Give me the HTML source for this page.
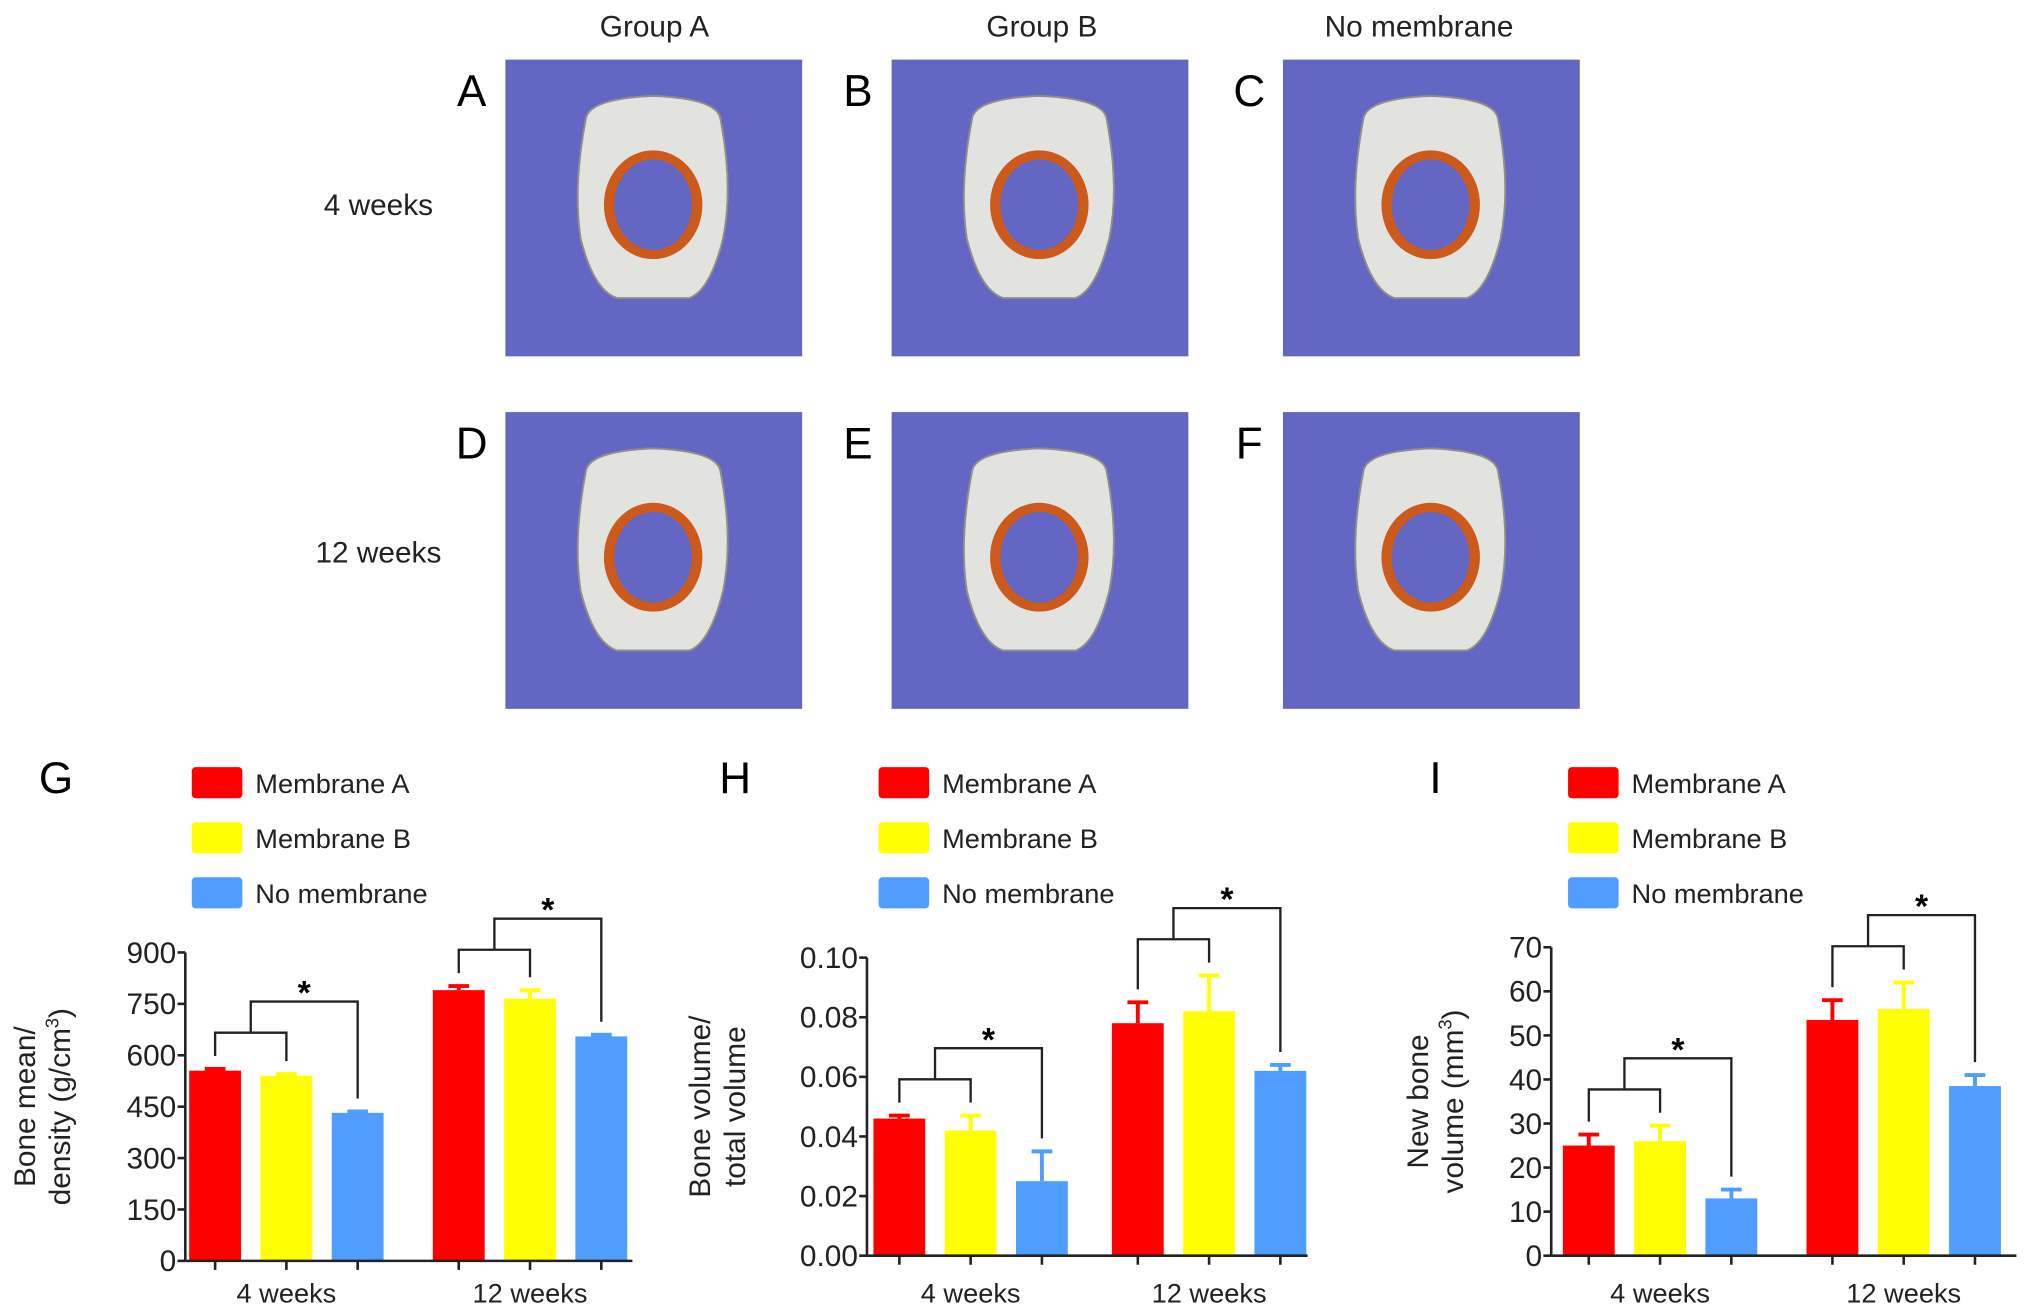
<!DOCTYPE html>
<html><head><meta charset="utf-8">
<style>
html,body{margin:0;padding:0;background:#fff;}
svg{display:block;font-family:"Liberation Sans",Arial,sans-serif;}
</style></head>
<body>
<svg id="fig" width="2032" height="1314" viewBox="0 0 1568 1014" preserveAspectRatio="none">
<g id="top">
  <text x="505" y="28" font-size="23" text-anchor="middle" fill="#222">Group A</text>
  <text x="804" y="28" font-size="23" text-anchor="middle" fill="#222">Group B</text>
  <text x="1095" y="28" font-size="23" text-anchor="middle" fill="#222">No membrane</text>
  <text x="292" y="166" font-size="23" text-anchor="middle" fill="#222">4 weeks</text>
  <text x="292" y="434" font-size="23" text-anchor="middle" fill="#222">12 weeks</text>
</g>
<g id="charts"></g>
</svg>
<script>
const NS='http://www.w3.org/2000/svg';
const svg=document.getElementById('fig');
const charts=document.getElementById('charts');
const top_=document.getElementById('top');
function mk(tag,attrs,parent){const e=document.createElementNS(NS,tag);for(const k in attrs)e.setAttribute(k,attrs[k]);(parent||svg).appendChild(e);return e;}

// ---------- image panels ----------
const panelLetters=['A','B','C','D','E','F'];
const panelX=[390,688,990];
const panelY=[46,318];
panelLetters.forEach((L,i)=>{
  const px=panelX[i%3], py=panelY[Math.floor(i/3)];
  const g=mk('g',{},top_);
  
  
  mk('rect',{x:px,y:py,width:229,height:229,fill:'#6466c4'},g);
  const cx=px+114, cy=py+108;
  mk('path',{d:`M${cx-52} ${cy-62} Q${cx-50} ${cy-78} ${cx} ${cy-80} Q${cx+50} ${cy-78} ${cx+52} ${cy-62} Q${cx+62} ${cy-10} ${cx+54} ${cy+30} Q${cx+44} ${cy+70} ${cx+28} ${cy+76} L${cx-28} ${cy+76} Q${cx-46} ${cy+70} ${cx-56} ${cy+30} Q${cx-62} ${cy-10} ${cx-52} ${cy-62} Z`,fill:'#e2e2de',stroke:'#8e8e8a','stroke-width':1.5},g);
  mk('ellipse',{cx:cx,cy:cy+4,rx:38,ry:42,fill:'#cc5a1a'},g);
  mk('ellipse',{cx:cx,cy:cy+4,rx:30,ry:35,fill:'#6466c4'},g);
  const t=mk('text',{x:px-26,y:py+36,'font-size':34,'text-anchor':'middle'},top_);
  t.textContent=L;
  
  
});

// ---------- chart data ----------
const categories=['4 weeks','12 weeks'];
const seriesNames=['Membrane A','Membrane B','No membrane'];
const seriesColors=['#ff0000','#ffff00','#4f9dff'];
const gMeans=[[555,790],[540,765],[432,655]];
const gErrs=[[5,12],[5,25],[4,5]];
const gTicks=[0,150,300,450,600,750,900];
const hMeans=[[0.046,0.078],[0.042,0.082],[0.025,0.062]];
const hErrs=[[0.001,0.007],[0.005,0.012],[0.010,0.002]];
const hTicks=[0,0.02,0.04,0.06,0.08,0.10];
const hTickLabels=['0.00','0.02','0.04','0.06','0.08','0.10'];
const iMeans=[[25,53.5],[26,56],[13,38.5]];
const iErrs=[[2.5,4.5],[3.5,6],[2,2.5]];
const iTicks=[0,10,20,30,40,50,60,70];

function chart(cfg){
  const g=mk('g',{},charts);
  
  
  const max=cfg.ticks[cfg.ticks.length-1];
  const y=v=>cfg.y0-(v/max)*(cfg.y0-cfg.yTop);
  const x=(c,s)=>cfg.centers[c]+(s-1)*55;
  const lt=mk('text',{x:cfg.letterX,y:612,'font-size':34},g);lt.textContent=cfg.letter;
  
  
  seriesNames.forEach((n,s)=>{
    const ly=592+s*42.5;
    const r=mk('rect',{x:cfg.legX,y:ly,width:39,height:24,rx:3,fill:seriesColors[s]},g);
    
    
    const t=mk('text',{x:cfg.legX+49,y:ly+20,'font-size':21,fill:'#222'},g);t.textContent=n;
    
    
  });
  cfg.means.forEach((arr,s)=>arr.forEach((v,c)=>{
    const bx=x(c,s);
    const top=cfg.errs[s][c]+v;
    mk('line',{x1:bx,x2:bx,y1:y(v),y2:y(top),stroke:seriesColors[s],'stroke-width':3},g);
    mk('line',{x1:bx-8,x2:bx+8,y1:y(top),y2:y(top),stroke:seriesColors[s],'stroke-width':3},g);
    const b=mk('rect',{x:bx-20,y:y(v),width:40,height:cfg.y0-y(v),fill:seriesColors[s]},g);
    
    
  }));
  categories.forEach((cat,c)=>{
    const ends=[0,1,2].map(s=>y(cfg.means[s][c]+cfg.errs[s][c])-10);
    const a=x(c,0),b=x(c,1),d=x(c,2);
    const sy=Math.min(ends[0],ends[1])-18;
    const by=sy-24;
    const mid=(a+b)/2;
    const br=mk('path',{d:`M${a} ${ends[0]} V${sy} H${b} V${ends[1]} M${mid} ${sy} V${by} H${d} V${ends[2]}`,fill:'none',stroke:'#222','stroke-width':1.8},g);
    
    
    const st=mk('text',{x:(mid+d)/2,y:by+2,'font-size':26,'text-anchor':'middle','font-weight':'bold'},g);st.textContent='*';
    
    
  });
  const ya=mk('line',{x1:cfg.axX,x2:cfg.axX,y1:cfg.yTop,y2:cfg.y0,stroke:'#222','stroke-width':2},g);
  
  const xa=mk('line',{x1:cfg.axX,x2:cfg.axEnd,y1:cfg.y0,y2:cfg.y0,stroke:'#222','stroke-width':2},g);
  
  cfg.ticks.forEach((tv,i)=>{
    mk('line',{x1:cfg.axX-6,x2:cfg.axX,y1:y(tv),y2:y(tv),stroke:'#222','stroke-width':2},g);
    const t=mk('text',{x:cfg.axX-7,y:y(tv)+8,'font-size':23,'text-anchor':'end',fill:'#222'},g);
    t.textContent=cfg.tickLabels?cfg.tickLabels[i]:String(tv);
    
    
  });
  categories.forEach((cat,c)=>{
    [0,1,2].forEach(s=>mk('line',{x1:x(c,s),x2:x(c,s),y1:cfg.y0,y2:cfg.y0+7,stroke:'#222','stroke-width':2},g));
    const t=mk('text',{x:cfg.centers[c],y:1005,'font-size':21,'text-anchor':'middle',fill:'#222'},g);t.textContent=cat;
    
    
  });
  const yc=(cfg.y0+cfg.yTop)/2;
  cfg.title.forEach((line,k)=>{
    const tx=cfg.titleX+k*27;
    const t=mk('text',{x:tx,y:yc,'font-size':23,'text-anchor':'middle',transform:`rotate(-90 ${tx} ${yc})`,fill:'#222'},g);
    t.innerHTML=line;
    
    
  });
}
chart({name:'chart-g',letter:'G',letterX:30,legX:148,axX:143,axEnd:488,y0:973,yTop:735,centers:[221,409],means:gMeans,errs:gErrs,ticks:gTicks,titleX:27,title:['Bone mean/','density (g/cm<tspan font-size="14" dy="-9">3</tspan><tspan dy="9">)</tspan>']});
chart({name:'chart-h',letter:'H',letterX:555,legX:678,axX:669,axEnd:1009,y0:969,yTop:739,centers:[749,933],means:hMeans,errs:hErrs,ticks:hTicks,tickLabels:hTickLabels,titleX:548,title:['Bone volume/','total volume']});
chart({name:'chart-i',letter:'I',letterX:1103,legX:1210,axX:1197,axEnd:1556,y0:969,yTop:731,centers:[1281,1469],means:iMeans,errs:iErrs,ticks:iTicks,titleX:1102,title:['New bone','volume (mm<tspan font-size="14" dy="-9">3</tspan><tspan dy="9">)</tspan>']});
</script>
</body></html>
